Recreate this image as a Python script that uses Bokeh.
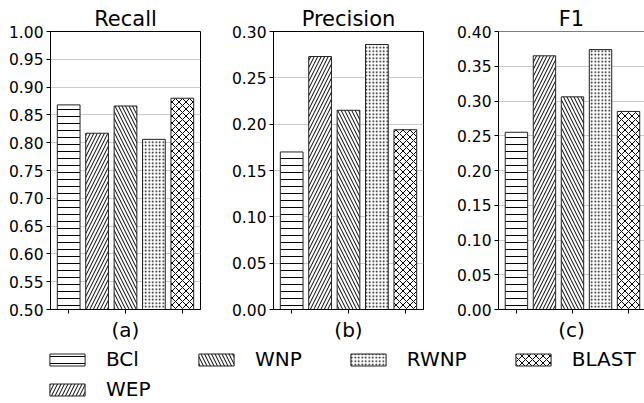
from bokeh.plotting import figure
from bokeh.models import (Range1d, FixedTicker, NumeralTickFormatter,
                          Legend, LegendItem, Span, ColumnDataSource)
from bokeh.layouts import column, row
from bokeh.embed import file_html
from bokeh.resources import INLINE

# ---------------- data ----------------
methods = ["BCl", "WEP", "WNP", "RWNP", "BLAST"]
recall = [0.868, 0.817, 0.866, 0.806, 0.880]
precision = [0.170, 0.273, 0.215, 0.286, 0.194]
f1 = [0.255, 0.365, 0.306, 0.374, 0.285]
panel_values = [recall, precision, f1]
panel_titles = ["Recall", "Precision", "F1"]
panel_labels = ["(a)", "(b)", "(c)"]
y_limits = [(0.50, 1.00), (0.00, 0.30), (0.00, 0.40)]
y_step = 0.05
x_ticks = [0, 2, 4]
legend_row1 = ["BCl", "WNP", "RWNP", "BLAST"]
legend_row2 = ["WEP"]

# ---------------- style ----------------
hatches = ["horizontal_line", "right_diagonal_line", "left_diagonal_line", "dot", "diagonal_cross"]
hatch_scales = [7, 7, 7, 3.5, 7]
hatch_weights = [1, 1, 1, 2.5, 1]
FONT = "DejaVu Sans"
BAR_W = 0.8
border_left = [50, 49, 43]
border_right = [24, 30, 0]
frame_w = [150, 150, 148]
FULL_FRAME = 150
TOP, FRAME_H, BOTTOM = 31, 278, 36
LEGEND_H = 58
n = len(methods)
span = (n - 1) + BAR_W
x_start = -BAR_W / 2 - 0.05 * span
x_end = (n - 1) + BAR_W / 2 + 0.05 * span


def styled_source(vals):
    return ColumnDataSource(dict(x=list(range(n)), top=vals, method=methods, hatch=hatches,
                                 scale=hatch_scales, weight=hatch_weights))


def draw_bars(p, src):
    return p.vbar(x="x", top="top", bottom=0, width=BAR_W, source=src, fill_color="white",
                  line_color="#222222", line_width=1, hatch_pattern="hatch",
                  hatch_scale="scale", hatch_weight="weight", hatch_color="black")


panels = []
for i in range(3):
    xe = x_start + (x_end - x_start) * frame_w[i] / FULL_FRAME
    lo, hi = y_limits[i]
    p = figure(width=border_left[i] + frame_w[i] + border_right[i], height=TOP + FRAME_H + BOTTOM,
               output_backend="svg", toolbar_location=None,
               x_range=Range1d(x_start, xe), y_range=Range1d(lo, hi),
               min_border_left=border_left[i], min_border_right=border_right[i],
               min_border_top=TOP, min_border_bottom=BOTTOM)
    draw_bars(p, styled_source(panel_values[i]))
    p.xgrid.visible = False
    p.ygrid.grid_line_color = "#cccccc"
    p.ygrid.grid_line_width = 1
    if i < 2:
        p.outline_line_color = "black"
        p.outline_line_width = 1
    else:
        p.outline_line_color = None
        p.add_layout(Span(location=hi, dimension="width", line_color="black", line_width=1))

    p.title.text = panel_titles[i]
    p.title.align = "center"
    p.title.text_font = FONT
    p.title.text_font_size = "21px"
    p.title.text_font_style = "normal"
    p.title.text_color = "black"
    p.title.standoff = 1

    nt = int(round((hi - lo) / y_step))
    ya = p.yaxis[0]
    ya.ticker = FixedTicker(ticks=[round(lo + k * y_step, 2) for k in range(nt + 1)])
    ya.formatter = NumeralTickFormatter(format="0.00")
    ya.major_label_text_font = FONT
    ya.major_label_text_font_size = "15.5px"
    ya.major_label_text_color = "black"
    ya.major_tick_out = 4
    ya.major_tick_in = 0
    ya.minor_tick_out = 0
    ya.minor_tick_in = 0
    ya.major_label_standoff = 3
    ya.axis_line_color = "black"
    ya.major_tick_line_color = "black"

    xa = p.xaxis[0]
    xa.ticker = FixedTicker(ticks=x_ticks)
    xa.major_label_text_font_size = "0px"
    xa.major_label_text_color = None
    xa.major_label_standoff = 0
    xa.major_tick_out = 4
    xa.major_tick_in = 0
    xa.minor_tick_out = 0
    xa.axis_line_color = "black"
    xa.major_tick_line_color = "black"
    xa.axis_label = panel_labels[i]
    xa.axis_label_text_font = FONT
    xa.axis_label_text_font_size = "20px"
    xa.axis_label_text_font_style = "normal"
    xa.axis_label_text_color = "black"
    xa.axis_label_standoff = 4
    panels.append(p)

# ---------------- legend (its own strip; bars lie outside its view) ----------------
lf = figure(width=sum(border_left) + sum(frame_w) + sum(border_right), height=LEGEND_H,
            output_backend="svg", toolbar_location=None,
            x_range=Range1d(x_start, x_end), y_range=Range1d(2, 3), min_border=0,
            x_axis_type=None, y_axis_type=None)
lf.outline_line_color = None
lf.xgrid.visible = False
lf.ygrid.visible = False
leg_r = draw_bars(lf, styled_source(recall))


def make_legend(names, loc):
    items = [LegendItem(label=m, renderers=[leg_r], index=methods.index(m)) for m in names]
    lg = Legend(items=items, location=loc, orientation="horizontal", padding=0, margin=0,
                spacing=44, glyph_width=44, glyph_height=15, label_standoff=17, label_width=44,
                label_text_font=FONT, label_text_font_size="20px", label_text_color="black",
                border_line_color=None, background_fill_alpha=0)
    lf.add_layout(lg, "center")


make_legend(legend_row1, (45, 32))
make_legend(legend_row2, (45, 2))

layout = column(row(*panels), lf)
open("out.html", "w").write(file_html(layout, INLINE))
